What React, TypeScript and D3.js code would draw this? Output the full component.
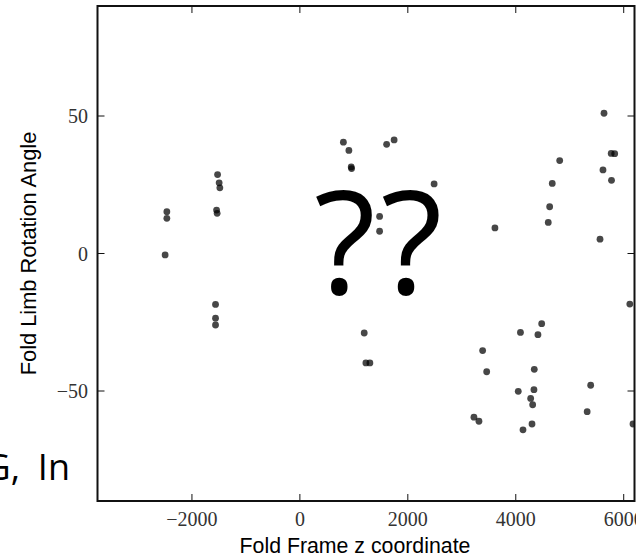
import React from "react";
import * as d3 from "d3";

// Fold frame z coordinate of each observation
const foldZ: number[] = [
  -1525, -1496, -1483, -1544, -1533, -2465, -2465, -2497, -1563, -1563, -1563,
  806, 908, 951, 958, 1607, 1746, 2487, 1477, 1477, 3614,
  5635, 5768, 5833, 4814, 5616, 5774, 4676, 4628, 4602, 5561,
  6113, 4480, 4087, 4411, 3386, 3461, 4343, 5388, 4046, 4337,
  4276, 4313, 5323, 3225, 3318, 4301, 4134, 6172, 1192, 1223, 1297,
];

// Fold limb rotation angle (degrees) of each observation
const limbRotation: number[] = [
  28.7, 25.7, 23.9, 15.8, 14.6, 15.2, 12.8, -0.5, -18.5, -23.5, -26.0,
  40.5, 37.5, 31.5, 30.9, 39.7, 41.3, 25.3, 13.5, 8.1, 9.3,
  51.0, 36.4, 36.3, 33.8, 30.4, 26.6, 25.5, 17.0, 11.3, 5.2,
  -18.4, -25.5, -28.7, -29.5, -35.3, -43.0, -42.1, -47.9, -50.1, -49.5,
  -52.7, -55.0, -57.5, -59.5, -61.0, -62.0, -64.1, -62.0, -28.9, -39.8, -39.8,
];

const xTicks: number[] = [-2000, 0, 2000, 4000, 6000];
const yTicks: number[] = [-50, 0, 50];

const xDomain: [number, number] = [-3750, 6200];
const yDomain: [number, number] = [-90, 90];

const W = 636;
const H = 559;
const plot = { left: 97.5, right: 634.5, top: 6, bottom: 501 };

const fmt = (v: number) => (v < 0 ? "\u2212" + Math.abs(v) : String(v));

export default function App() {
  const x = d3.scaleLinear().domain(xDomain).range([plot.left, plot.right]);
  const y = d3.scaleLinear().domain(yDomain).range([plot.bottom, plot.top]);
  const tickLen = 7;
  const serif = "'Liberation Serif', 'DejaVu Serif', serif";
  const sans = "'Liberation Sans', Arial, sans-serif";
  const overlay = "'Open Sans', 'Noto Sans', sans-serif";

  return (
    <svg
      width={W}
      height={H}
      style={{ position: "absolute", left: 0, top: 0, background: "#fff" }}
    >
      <defs>
        <clipPath id="plot-clip">
          <rect
            x={plot.left}
            y={plot.top}
            width={plot.right - plot.left}
            height={plot.bottom - plot.top}
          />
        </clipPath>
      </defs>

      <g clipPath="url(#plot-clip)">
        {foldZ.map((z, i) => (
          <circle
            key={i}
            cx={x(z)}
            cy={y(limbRotation[i])}
            r={3.4}
            fill="#000"
            fillOpacity={0.72}
          />
        ))}
      </g>

      {/* ticks point inward on all four sides */}
      <g stroke="#111" strokeWidth={1}>
        {xTicks.map((t) => (
          <g key={"xt" + t}>
            <line x1={x(t)} x2={x(t)} y1={plot.bottom} y2={plot.bottom - tickLen} />
            <line x1={x(t)} x2={x(t)} y1={plot.top} y2={plot.top + tickLen} />
          </g>
        ))}
        {yTicks.map((t) => (
          <g key={"yt" + t}>
            <line x1={plot.left} x2={plot.left + tickLen} y1={y(t)} y2={y(t)} />
            <line x1={plot.right} x2={plot.right - tickLen} y1={y(t)} y2={y(t)} />
          </g>
        ))}
      </g>

      <rect
        x={plot.left}
        y={plot.top}
        width={plot.right - plot.left}
        height={plot.bottom - plot.top}
        fill="none"
        stroke="#111"
        strokeWidth={2}
      />

      <g fontFamily={serif} fontSize={20} fill="#333">
        {xTicks.map((t) => (
          <text key={"xl" + t} x={x(t)} y={526} textAnchor="middle">
            {fmt(t)}
          </text>
        ))}
        {yTicks.map((t) => (
          <text key={"yl" + t} x={88} y={y(t) + 7} textAnchor="end">
            {fmt(t)}
          </text>
        ))}
      </g>

      <text x={355} y={553} textAnchor="middle" fontFamily={sans} fontSize={21.3} fill="#000">
        Fold Frame z coordinate
      </text>
      <text
        transform={`translate(36, ${(plot.top + plot.bottom) / 2}) rotate(-90)`}
        textAnchor="middle"
        fontFamily={sans}
        fontSize={21.8}
        fill="#000"
      >
        Fold Limb Rotation Angle
      </text>

      <text
        x={314}
        y={294}
        fontFamily={overlay}
        fontSize={143}
        letterSpacing={5}
        fill="#000"
      >
        ??
      </text>
      <g fontFamily={overlay} fontSize={36} fill="#000">
        <text x={20} y={480} textAnchor="end">G,</text>
        <text x={70} y={480} textAnchor="end">In</text>
      </g>
    </svg>
  );
}
